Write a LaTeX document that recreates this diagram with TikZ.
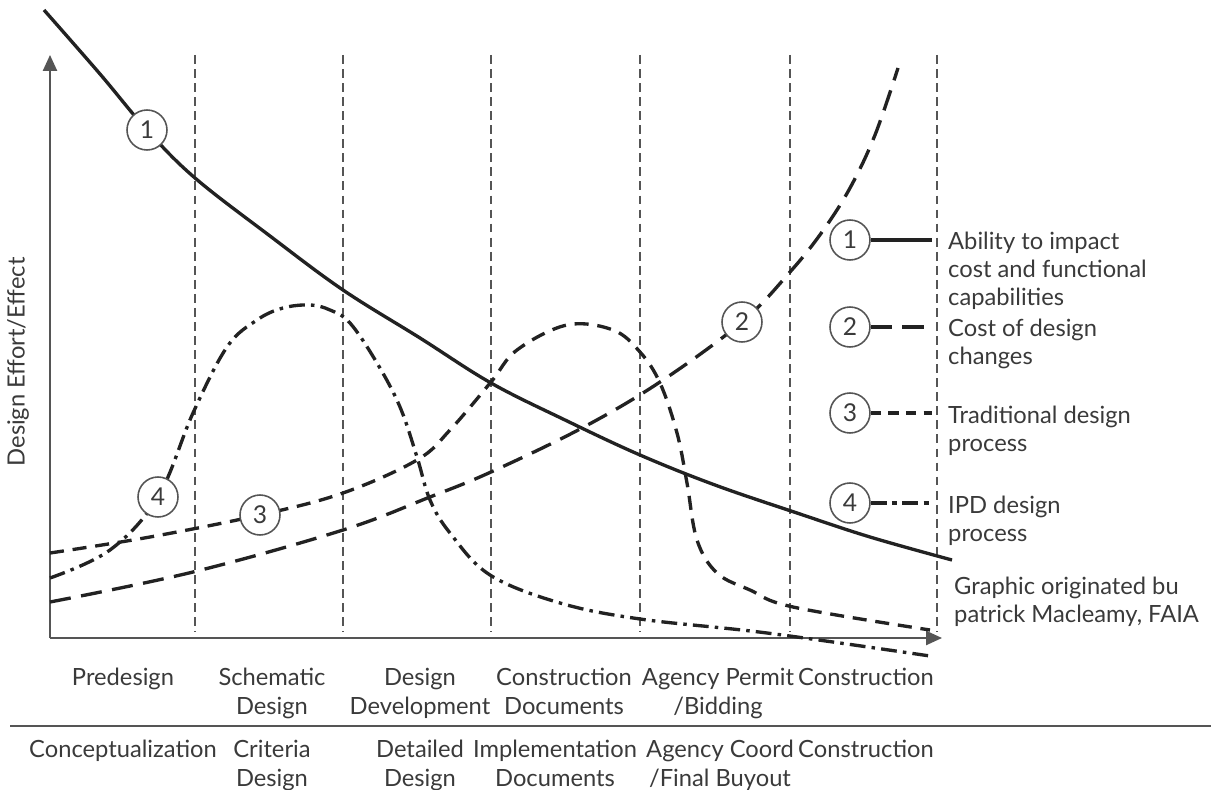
\documentclass[tikz,border=0pt]{standalone}
\usepackage{fontspec}
\setmainfont{Lato}
\usetikzlibrary{arrows.meta}
\definecolor{ink}{HTML}{222222}
\definecolor{axisgray}{HTML}{555555}
\definecolor{textgray}{HTML}{3A3A3A}

\begin{document}
\begin{tikzpicture}[x=0.02cm,y=-0.02cm,
    numcirc/.style={circle,draw=axisgray,line width=0.9pt,fill=white,
        minimum size=0.8cm,inner sep=0pt,text=textgray,font=\fontsize{14}{16}\selectfont},
    phasegrid/.style={axisgray,line width=0.7pt,dash pattern=on 5pt off 3pt},
    impact/.style={ink,line width=1.9pt},
    costchange/.style={ink,line width=1.9pt,dash pattern=on 12pt off 6pt},
    tradproc/.style={ink,line width=1.9pt,dash pattern=on 8pt off 5pt},
    ipdproc/.style={ink,line width=1.9pt,dash pattern=on 9pt off 3.5pt on 2pt off 3.5pt},
    phase/.style={anchor=north,align=center,text=textgray,font=\fontsize{13.5}{16.5}\selectfont},
    legtext/.style={anchor=north west,align=left,text=textgray,font=\fontsize{13.5}{16}\selectfont}]
    \useasboundingbox (0,0) rectangle (1211,790);

    % phase borders
    \foreach \px in {195,343,491,640,790,937}
        \draw [phasegrid] (\px,55) -- (\px,632);

    % axes
    \begin{scope}[axisgray,line width=1pt]
    \draw [-{Triangle[length=9pt,width=8pt]}] (50,638) -- (50,55);
    \draw [-{Triangle[length=9pt,width=8pt]}] (50,638) -- (942,638);
    \end{scope}
    \node [rotate=90,text=textgray,font=\fontsize{13.5}{16}\selectfont] (ylab) at (18,362) {Design Effort/Effect};

    % curves
    \draw [impact] plot [smooth,tension=0.6] coordinates {(44,10) (100,74) (147,130) (195,178)
        (270,236) (343,290) (420,338) (491,383) (565,420) (640,455) (715,485) (797,513)
        (870,537) (952,560)};
    \draw [costchange] plot [smooth,tension=0.6] coordinates {(50,602) (193,572) (343,530)
        (430,497) (491,472) (582,428) (660,382) (742,322) (790,272) (822,232) (850,188)
        (875,135) (898,68)};
    \draw [tradproc] plot [smooth,tension=0.6] coordinates {(50,553) (150,537) (260,515)
        (343,493) (417,460) (450,430) (491,382) (517,350) (567,325) (613,330) (640,352)
        (660,383) (677,433) (687,483) (697,540) (717,573) (750,590) (793,607) (930,630)};
    \draw [ipdproc] plot [smooth,tension=0.6] coordinates {(50,578) (110,550) (158,497)
        (193,413) (227,347) (257,320) (283,308) (310,305) (330,310) (350,323) (377,363)
        (400,407) (417,457) (430,500) (450,533) (490,575) (560,603) (640,619) (767,633)
        (930,656)};

    % markers on the curves
    \node [numcirc] (c1) at (147,130) {1};
    \node [numcirc] (c2) at (742,322) {2};
    \node [numcirc] (c3) at (260,515) {3};
    \node [numcirc] (c4) at (158,497) {4};

    % legend
    \node [numcirc] (l1) at (850,240) {1};
    \node [numcirc] (l2) at (850,327) {2};
    \node [numcirc] (l3) at (850,413) {3};
    \node [numcirc] (l4) at (850,503) {4};
    \coordinate (e1) at (932,240);
    \coordinate (e2) at (932,327);
    \coordinate (e3) at (932,413);
    \coordinate (e4) at (932,503);
    \draw [impact,line width=2.5pt] (l1) -- (e1);
    \draw [costchange,line width=2.5pt] (l2) -- (e2);
    \draw [tradproc,dash pattern=on 6pt off 4pt] (l3) -- (e3);
    \draw [ipdproc,line width=2.5pt,dash pattern=on 9pt off 3pt on 3pt off 3pt] (l4) -- (e4);
    \node [legtext] (t1) at (942,226) {Ability to impact\\cost and functional\\capabilities};
    \node [legtext] (t2) at (942,313) {Cost of design\\changes};
    \node [legtext] (t3) at (942,400) {Traditional design\\process};
    \node [legtext] (t4) at (942,490) {IPD design\\process};
    \node [legtext] (src) at (948,571) {Graphic originated bu\\patrick Macleamy, FAIA};

    % phase names
    \node [phase] (p1) at (123,662) {Predesign};
    \node [phase] (p2) at (272,662) {Schematic\\Design};
    \node [phase] (p3) at (420,662) {Design\\Development};
    \node [phase] (p4) at (564,662) {Construction\\Documents};
    \node [phase] (p5) at (718,662) {Agency Permit\\/Bidding};
    \node [phase] (p6) at (866,662) {Construction};
    \draw [axisgray,line width=1pt] (10,726) -- (1211,726);
    \node [phase] (q1) at (123,734) {Conceptualization};
    \node [phase] (q2) at (272,734) {Criteria\\Design};
    \node [phase] (q3) at (420,734) {Detailed\\Design};
    \node [phase] (q4) at (555,734) {Implementation\\Documents};
    \node [phase] (q5) at (720,734) {Agency Coord\\/Final Buyout};
    \node [phase] (q6) at (866,734) {Construction};
\end{tikzpicture}
\end{document}
